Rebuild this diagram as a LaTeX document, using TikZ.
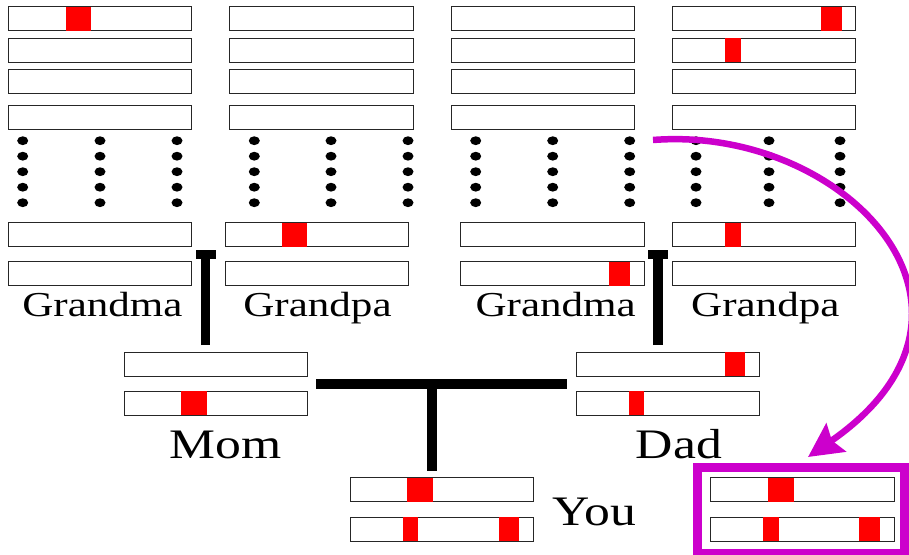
\documentclass[tikz,border=0pt]{standalone}
\usepackage{fontspec}
\usetikzlibrary{arrows.meta}
\newfontfamily\lblfont[FakeStretch=1.23]{Liberation Serif}
\definecolor{mag}{HTML}{CC00CC}
\definecolor{gene}{HTML}{FF0000}
\newcommand\chr[3]{\node[chrom] (#1) at (#2,#3) {};}
\newcommand\band[3]{\fill[gene] (#1,#3-12) rectangle (#2,#3+12);}
\newcommand\dotcol[1]{\foreach \yy in {140.7,156.2,171.7,187.2,202.7}{\fill (#1,\yy) ellipse (5.5 and 4.4);}}
\begin{document}
\begin{tikzpicture}[x=1pt,y=-1pt,
  chrom/.style={draw=black!85,fill=white,line width=1pt,minimum width=183.4pt,minimum height=24pt,inner sep=0pt,outer sep=0pt},
  famline/.style={line width=9.5pt},
  lblsmall/.style={font=\lblfont\fontsize{35}{40}\selectfont,anchor=base,inner sep=0pt},
  lblbig/.style={font=\lblfont\fontsize{42}{48}\selectfont,anchor=base,inner sep=0pt},
  hered/.style={draw=mag,line width=6.5pt,-{Stealth[length=34pt,width=34pt,inset=5pt]}}]
\useasboundingbox (0,0) rectangle (909,554);
% top rows of the four grandparents
\foreach \c/\xc in {a/100,b/321.5,c/542.8,d/764}{
  \foreach \r/\yc in {1/18.7,2/50.3,3/81.7,4/117.3}{
    \chr{top\c\r}{\xc}{\yc}
  }
}
\band{66}{91}{18.7}
\band{821}{841.7}{18.7}
\band{725}{740.7}{50.3}
% dots
\foreach \x in {22.7,100,177,254.3,331,408,475.7,552.7,629.7,696,769,840}{\dotcol{\x}}
% lower rows
\foreach \c/\xc in {a/100,b/316.8,c/552.3,d/764}{
  \chr{low\c1}{\xc}{234.7}
  \chr{low\c2}{\xc}{273.8}
}
\band{282.3}{307.3}{234.7}
\band{609.3}{630}{273.8}
\band{725}{740.7}{234.7}
% labels of grandparents
\node[lblsmall] (gma1) at (102.5,316.7) {Grandma};
\node[lblsmall] (gpa1) at (317.5,316.7) {Grandpa};
\node[lblsmall] (gma2) at (555.7,316.7) {Grandma};
\node[lblsmall] (gpa2) at (765.3,316.7) {Grandpa};
% parents
\chr{mom1}{215.7}{364.3}
\chr{mom2}{215.7}{403.3}
\band{181.3}{206.7}{403.3}
\chr{dad1}{668}{364.3}
\chr{dad2}{668}{403.3}
\band{725.3}{745}{364.3}
\band{628.7}{644.3}{403.3}
\node[lblbig] (momlbl) at (225.5,458.3) {Mom};
\node[lblbig] (dadlbl) at (678.8,458.3) {Dad};
% you
\chr{you1}{441.7}{489.8}
\chr{you2}{441.7}{529.2}
\band{407.3}{432.7}{489.8}
\band{402.7}{418}{529.2}
\band{499.3}{519.3}{529.2}
\node[lblbig] (youlbl) at (594,525) {You};
% copy
\chr{cp1}{802.5}{489.8}
\chr{cp2}{802.5}{529.2}
\band{768}{793.7}{489.8}
\band{763.3}{779}{529.2}
\band{859.3}{880}{529.2}
\node[draw=mag,line width=9pt,minimum width=207.3pt,minimum height=86.3pt,inner sep=0pt] (frame) at (800.85,510.35) {};
% family connectors
\coordinate (lt) at (205.7,250);
\coordinate (lb) at (205.7,345);
\coordinate (rt) at (658,250);
\coordinate (rb) at (658,345);
\draw[famline,-{Rectangle[length=8.5pt,width=20pt]}] (lb) -- (lt);
\draw[famline,-{Rectangle[length=8.5pt,width=20pt]}] (rb) -- (rt);
\coordinate (ml) at (316,384);
\coordinate (mr) at (566.7,384);
\coordinate (mm) at (432,384);
\coordinate (mb) at (432,470.7);
\draw[famline] (ml) -- (mr);
\draw[famline] (mm) -- (mb);
% inheritance arrow
\coordinate (src) at (653,140);
\coordinate (tgt) at (808,457);
\draw[hered] (src) .. controls (845,125) and (1020,310) .. (tgt);
\end{tikzpicture}
\end{document}
